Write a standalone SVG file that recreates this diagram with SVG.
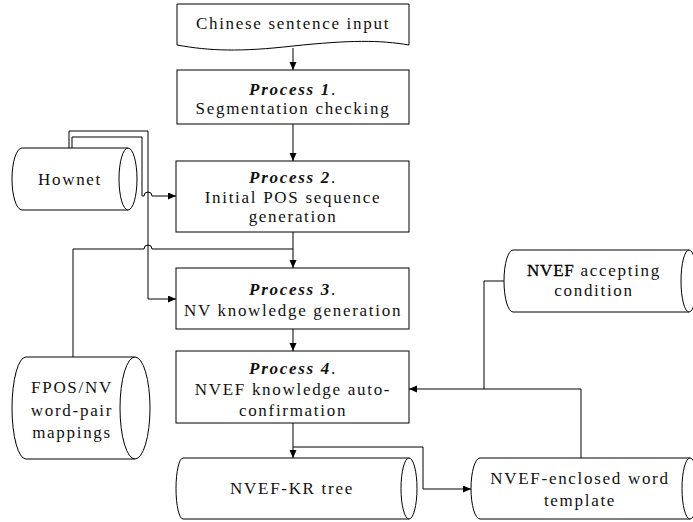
<svg xmlns="http://www.w3.org/2000/svg" width="693" height="522" viewBox="0 0 693 522">
<defs>
<marker id="ah" markerWidth="9" markerHeight="8" refX="8" refY="3.5" orient="auto" markerUnits="userSpaceOnUse">
<path d="M0,0 L8,3.5 L0,7 Z" fill="#000"/>
</marker>
<style>
.s{fill:#fff;stroke:#000;stroke-width:1}
.c{fill:none;stroke:#000;stroke-width:1}
.a{marker-end:url(#ah)}
text{font-family:"Liberation Serif","Times New Roman",serif;font-size:17px;letter-spacing:1.7px;fill:#111;text-anchor:middle}
.b{font-weight:bold;font-style:italic}
</style>
</defs>
<rect width="693" height="522" fill="#fff"/>
<g id="connectors">
<path class="c a" d="M293,48 V70"/>
<path class="c a" d="M293,124 V161"/>
<path class="c a" d="M293,232 V268"/>
<path class="c a" d="M293,329 V351"/>
<path class="c a" d="M293,423 V458"/>
<path class="c a" d="M293,447 H423 V489 H471"/>
<path class="c a" d="M69,148 V131 H148 V299 H176"/>
<path class="c a" d="M72,148 V137 H142 V196 H144 A4,4 0 0 1 152,196 H176"/>
<path class="c" d="M73,357 V249 H144 A4,4 0 0 1 152,249 H293"/>
<path class="c a" d="M504,281 H484 V389 H409"/>
<path class="c" d="M581,458 V389 H484"/>
</g>
<g id="input">
<path class="s" d="M177,4 H409 V45 C380,40 350,40 293,46 C240,52 210,51 177,45 Z"/>
<text x="293" y="29">Chinese sentence input</text>
</g>
<g id="process1">
<rect class="s" x="177" y="70" width="232" height="54"/>
<text x="293" y="95"><tspan class="b">Process 1</tspan>.</text>
<text x="293" y="114">Segmentation checking</text>
</g>
<g id="process2">
<rect class="s" x="176" y="161" width="233" height="71"/>
<text x="293" y="183"><tspan class="b">Process 2</tspan>.</text>
<text x="293" y="203">Initial POS sequence</text>
<text x="293" y="222">generation</text>
</g>
<g id="process3">
<rect class="s" x="176" y="268" width="233" height="61"/>
<text x="293" y="295"><tspan class="b">Process 3</tspan>.</text>
<text x="293" y="316">NV knowledge generation</text>
</g>
<g id="process4">
<rect class="s" x="176" y="351" width="233" height="72"/>
<text x="293" y="374"><tspan class="b">Process 4</tspan>.</text>
<text x="293" y="395">NVEF knowledge auto-</text>
<text x="293" y="416">confirmation</text>
</g>
<g id="hownet">
<path class="s" d="M128,148 H22 A10,31 0 0 0 22,210 H128 Z"/>
<ellipse class="s" cx="128" cy="179" rx="9" ry="31"/>
<text x="70" y="185">Hownet</text>
</g>
<g id="fpos">
<path class="s" d="M135,357 H26 A14,51 0 0 0 26,459 H135 Z"/>
<ellipse class="s" cx="135" cy="408" rx="15" ry="51"/>
<text x="72" y="393">FPOS/NV</text>
<text x="72" y="416">word-pair</text>
<text x="72" y="438">mappings</text>
</g>
<g id="nvef-kr">
<path class="s" d="M409,458 H183 A7,30.5 0 0 0 183,519 H409 Z"/>
<ellipse class="s" cx="409" cy="488.5" rx="8" ry="30.5"/>
<text x="292" y="494">NVEF-KR tree</text>
</g>
<g id="nvef-enclosed">
<path class="s" d="M690,458 H480 A9,30.5 0 0 0 480,519 H690 Z"/>
<ellipse class="s" cx="690" cy="488.5" rx="8" ry="30.5"/>
<text x="580" y="484">NVEF-enclosed word</text>
<text x="580" y="506">template</text>
</g>
<g id="nvef-accepting">
<path class="s" d="M689,250 H513 A9,31 0 0 0 513,312 H689 Z"/>
<ellipse class="s" cx="689" cy="281" rx="8" ry="31"/>
<text x="594" y="276"><tspan style="letter-spacing:0.8px;fill:#000;stroke:#000;stroke-width:0.3">NVEF</tspan> accepting</text>
<text x="594" y="296">condition</text>
</g>
</svg>
